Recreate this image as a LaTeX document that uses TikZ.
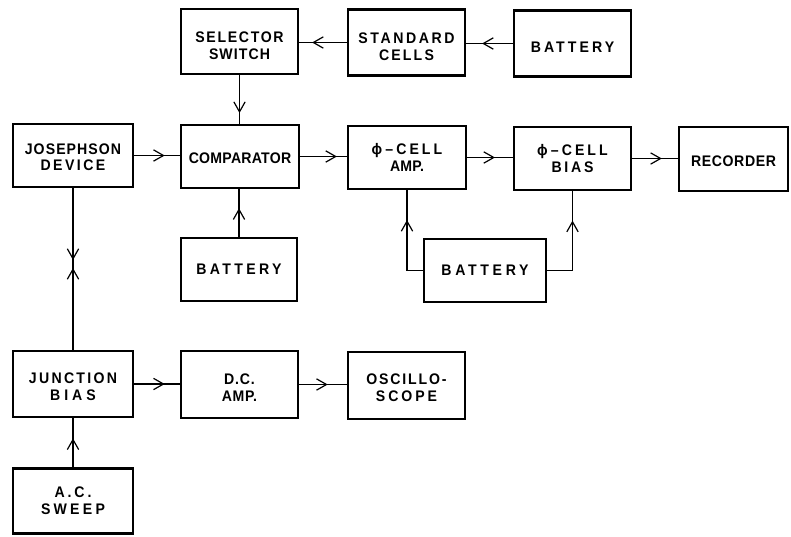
\documentclass[tikz,border=0pt]{standalone}
\usepackage{fontspec}
\setmainfont{Liberation Sans}
\usetikzlibrary{arrows.meta,decorations.markings}
\newcommand\lsp[2]{{\addfontfeature{LetterSpace=#1}#2}}
\begin{document}
\begin{tikzpicture}[x=0.75pt,y=-0.75pt,
  box/.style={draw, line width=2pt, rectangle, inner sep=0pt},
  txt/.style={align=center, inner sep=0pt,
    font=\bfseries\fontsize{11.5}{12.5}\selectfont\addfontfeature{FakeStretch=0.92}},
  bx/.style 2 args={minimum width=#1*0.75pt, minimum height=#2*0.75pt},
  conn/.style={line width=0.9pt},
  midarr/.style={conn, postaction={decorate}, decoration={markings,
      mark=at position #1 with {\arrow{Straight Barb[length=7.5pt,width=8.5pt,line width=0.9pt]}}}},
  midarr/.default=0.5
]
\useasboundingbox (0,0) rectangle (791,536);

% boxes
\node[box, bx={117}{65}] (sel) at (239.5,41.5) {};
\node[box, bx={117}{66}] (std) at (406.5,42.5) {};
\node[box, bx={117}{66}] (bat1) at (572.5,43.5) {};
\node[box, bx={120}{63}] (jos) at (73,155.5) {};
\node[box, bx={118}{63}] (comp) at (240,156.5) {};
\node[box, bx={118}{63}] (amp) at (407,157.5) {};
\node[box, bx={117}{63}] (bias) at (572.5,158.5) {};
\node[box, bx={109}{64}] (rec) at (733.5,159) {};
\node[box, bx={116}{63}] (bat2) at (239,269.5) {};
\node[box, bx={122}{63}] (bat3) at (485,270.5) {};
\node[box, bx={120}{66}] (jb) at (73,384) {};
\node[box, bx={117}{67}] (dc) at (239.5,384.5) {};
\node[box, bx={117}{67}] (osc) at (406.5,385.5) {};
\node[box, bx={120}{65}] (ac) at (73,501) {};

% texts
\node[txt] (selT) at ([yshift=-3pt]sel.center) {\lsp{11}{SELECTOR}\\\lsp{7}{SWITCH}};
\node[txt] (stdT) at ([yshift=-3pt]std.center) {\lsp{17}{STANDARD}\\\lsp{14}{CELLS}};
\node[txt] (bat1T) at ([yshift=-3pt]bat1.center) {\lsp{20}{BATTERY}};
\node[txt] (josT) at ([yshift=-1.2pt]jos.center) {\lsp{7}{JOSEPHSON}\\\lsp{16}{DEVICE}};
\node[txt] (compT) at ([yshift=-1.2pt]comp.center) {\lsp{1.5}{COMPARATOR}};
\node[txt] (ampT) at (amp.center) {\lsp{20}{ϕ–CELL}\\\lsp{1}{AMP.}};
\node[txt] (biasT) at (bias.center) {\lsp{20}{ϕ–CELL}\\\lsp{18}{BIAS}};
\node[txt] (recT) at ([yshift=-1.5pt]rec.center) {\lsp{4}{RECORDER}};
\node[txt] (bat2T) at (bat2.center) {\lsp{22}{BATTERY}};
\node[txt] (bat3T) at (bat3.center) {\lsp{24}{BATTERY}};
\node[txt] (jbT) at ([yshift=-2.2pt]jb.center) {\lsp{15}{JUNCTION}\\\lsp{26}{BIAS}};
\node[txt] (dcT) at ([yshift=-2.2pt]dc.center) {\lsp{5}{D.C.}\\\lsp{4}{AMP.}};
\node[txt] (oscT) at ([yshift=-1.5pt]osc.center) {\lsp{12}{OSCILLO-}\\\lsp{19}{SCOPE}};
\node[txt] (acT) at (ac.center) {\lsp{19}{A.C.}\\\lsp{21}{SWEEP}};

% connectors
\draw[midarr=0.73] (std.west) -- (sel.east |- std.west);
\draw[midarr=0.66] (bat1.west) -- (std.east |- bat1.west);
\draw[midarr=0.78] (sel.south) -- (comp.north -| sel.south);
\draw[midarr=0.67] (jos.east) -- (comp.west |- jos.east);
\draw[midarr=0.79] (comp.east) -- (amp.west |- comp.east);
\draw[midarr=0.61] (amp.east) -- (bias.west |- amp.east);
\draw[midarr=0.65] (bias.east) -- (rec.west |- bias.east);
\draw[midarr=0.6] (bat2.north) -- (comp.south -| bat2.north);
\draw[conn] (bat3.west) -| (amp.south);
\draw[midarr=0.63] (amp.south |- bat3.west) -- (amp.south);
\draw[conn] (bat3.east) -| (bias.south);
\draw[midarr=0.63] (bias.south |- bat3.east) -- (bias.south);
\draw[midarr=0.444] (jos.south) -- (jb.north);
\path[midarr=0.506, draw=none] (jb.north) -- (jos.south);
\draw[midarr=0.67] (jb.east) -- (dc.west |- jb.east);
\draw[midarr=0.6] (dc.east) -- (osc.west |- dc.east);
\draw[midarr=0.59] (ac.north) -- (jb.south);
\end{tikzpicture}
\end{document}
